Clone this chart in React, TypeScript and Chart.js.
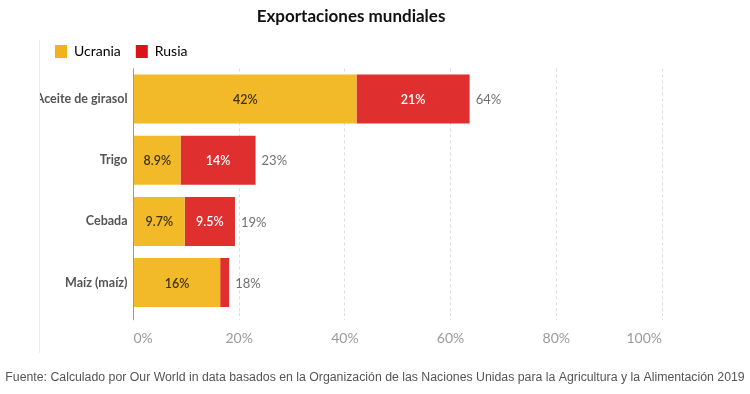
import React, { useEffect, useRef } from "react";
import { Chart, registerables } from "chart.js";

Chart.register(...registerables);

const TITLE = "Exportaciones mundiales";
const SOURCE =
  "Fuente: Calculado por Our World in data basados en la Organización de las Naciones Unidas para la Agricultura y la Alimentación 2019";
const categories = ["Aceite de girasol", "Trigo", "Cebada", "Maíz (maíz)"];
const ucrania = [42.2, 8.9, 9.7, 16.4];
const rusia = [21.4, 14.2, 9.5, 1.7];
const xTicks = [0, 20, 40, 60, 80, 100];

const YELLOW = "#F2B928";
const RED = "#E02F2F";
const LEG_YELLOW = "#F2B21C";
const LEG_RED = "#DC1219";

const fmt = (v: number) => Number(v.toPrecision(2)).toString() + "%";

const labelsPlugin = {
  id: "barLabels",
  afterDatasetsDraw(chart: any) {
    const ctx = chart.ctx;
    ctx.save();
    ctx.textBaseline = "middle";
    ctx.textAlign = "center";
    ctx.font = "600 12.5px Lato";
    chart.data.datasets.forEach((ds: any, di: number) => {
      const meta = chart.getDatasetMeta(di);
      meta.data.forEach((bar: any, i: number) => {
        const w = Math.abs(bar.x - bar.base);
        if (w < 22) return;
        ctx.fillStyle = di === 0 ? "#3e3210" : "#ffffff";
        ctx.fillText(fmt(ds.data[i]), (bar.x + bar.base) / 2, bar.y + 1);
      });
    });
    const last = chart.getDatasetMeta(1);
    ctx.textAlign = "left";
    ctx.font = "13px Lato";
    ctx.fillStyle = "#707070";
    last.data.forEach((bar: any, i: number) => {
      const total = ucrania[i] + rusia[i];
      ctx.fillText(fmt(total), bar.x + 6, bar.y + 1);
    });
    ctx.restore();
  },
  afterDraw(chart: any) {
    const ctx = chart.ctx;
    ctx.save();
    ctx.strokeStyle = "#ececec";
    ctx.lineWidth = 1;
    ctx.beginPath();
    ctx.moveTo(39.5, 40);
    ctx.lineTo(39.5, 353);
    ctx.stroke();
    ctx.font = "12.3px 'Liberation Sans', Arial, sans-serif";
    ctx.fillStyle = "#555555";
    ctx.textAlign = "center";
    ctx.textBaseline = "middle";
    ctx.fillText(SOURCE, 375, 377.5);
    ctx.restore();
  },
};

export default function App() {
  const ref = useRef<HTMLCanvasElement | null>(null);
  useEffect(() => {
    if (!ref.current) return;
    const chart = new Chart(ref.current, {
      type: "bar",
      data: {
        labels: categories,
        datasets: [
          { label: "Ucrania", data: ucrania, backgroundColor: YELLOW, barPercentage: 0.8, categoryPercentage: 1 },
          { label: "Rusia", data: rusia, backgroundColor: RED, barPercentage: 0.8, categoryPercentage: 1 },
        ],
      },
      options: {
        indexAxis: "y",
        animation: false,
        responsive: false,
        maintainAspectRatio: false,
        layout: { padding: { left: 40, right: 88, top: 0, bottom: 37 } },
        plugins: {
          tooltip: { enabled: false },
          title: {
            display: true,
            text: TITLE,
            color: "#111111",
            font: { family: "Lato", size: 17, weight: "bold" },
            padding: { top: 6, bottom: 3 },
          },
          legend: {
            display: true,
            position: "top",
            align: "start",
            labels: {
              boxWidth: 12,
              boxHeight: 13,
              padding: 15,
              color: "#333333",
              font: { family: "Lato", size: 14 },
              generateLabels: () => [
                { text: "Ucrania", fillStyle: LEG_YELLOW, strokeStyle: LEG_YELLOW, lineWidth: 0, datasetIndex: 0, hidden: false },
                { text: "Rusia", fillStyle: LEG_RED, strokeStyle: LEG_RED, lineWidth: 0, datasetIndex: 1, hidden: false },
              ],
            },
          },
        },
        scales: {
          x: {
            stacked: true,
            min: 0,
            max: 100,
            afterBuildTicks: (scale: any) => {
              scale.ticks = xTicks.map((v) => ({ value: v }));
            },
            ticks: {
              callback: (v: any) => v + "%",
              color: "#9a9a9a",
              font: { family: "Lato", size: 14 },
              padding: 10,
              align: "inner",
              maxRotation: 0,
            },
            grid: {
              color: (c: any) => (c.tick && c.tick.value === 0 ? "#9a9a9a" : "#dddddd"),
              tickColor: (c: any) => (c.tick && c.tick.value === 0 ? "#9a9a9a" : "#dddddd"),
              tickLength: 7,
              tickBorderDash: (c: any) => (c.tick && c.tick.value === 0 ? [] : [3, 3]),
              lineWidth: 1,
            },
            border: {
              display: false,
              dash: (c: any) => (c.tick && c.tick.value === 0 ? [] : [3, 3]),
            },
          },
          y: {
            stacked: true,
            afterFit: (scale: any) => {
              scale.width = 93.5;
            },
            ticks: {
              color: "#555555",
              font: { family: "Lato", size: 12.5, weight: "bold" },
              padding: 6,
            },
            grid: { display: false, drawTicks: false },
            border: { display: false },
          },
        },
      },
      plugins: [labelsPlugin],
    } as any);
    return () => chart.destroy();
  }, []);
  return (
    <div style={{ position: "fixed", left: 0, top: 0, width: 750, height: 394, background: "#fff" }}>
      <canvas ref={ref} width={750} height={394} style={{ width: 750, height: 394, display: "block" }} />
    </div>
  );
}
